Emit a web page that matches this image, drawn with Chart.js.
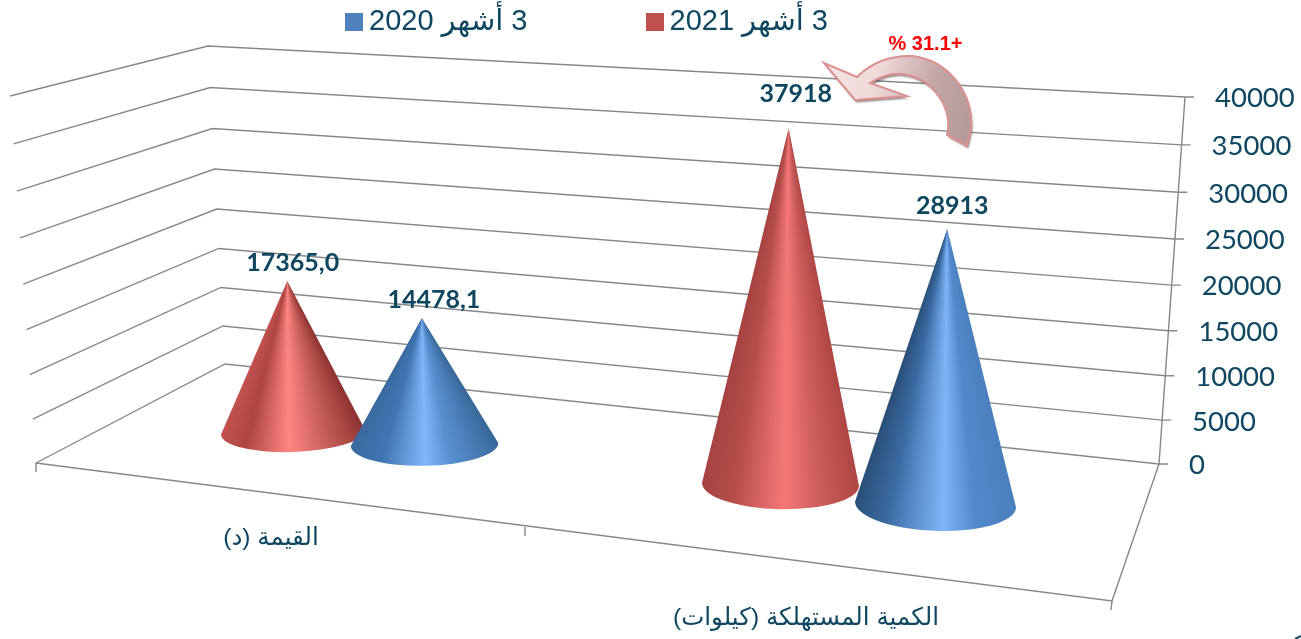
<!DOCTYPE html>
<html lang="ar">
<head>
<meta charset="utf-8">
<style>
html,body{margin:0;padding:0;background:#fff;overflow:hidden}
canvas{display:block;direction:rtl}
</style>
<script src="https://cdn.jsdelivr.net/npm/chart.js@4"></script>
</head>
<body>
<canvas id="c" width="1301" height="639"></canvas>
<script>
const categories = ['القيمة (د)', 'الكمية المستهلكة (كيلوات)'];
const series2021Name = '3 أشهر 2021';
const series2020Name = '3 أشهر 2020';
const series2021 = [17365.0, 37918];
const series2020 = [14478.1, 28913];
const labels2021 = ['17365,0', '37918'];
const labels2020 = ['14478,1', '28913'];
const changeLabel = '+31.1 %';
const axisMax = 40000;
const axisStep = 5000;

const TEAL = '#0f4761';
const GRID = '#84888b';
const LATIN = '"Liberation Sans","DejaVu Sans",sans-serif';

/* ---------- the picture's 3-D box: a perspective view of the plot ---------- */
const warp = t => t * (1 - 0.05 * (1 - t));          // wall foreshortening
const persp = {
  leftWall:  t => { const w = warp(t); return [36 - 26 * w, 463 - 367 * w]; },
  backCorner:t => { const w = warp(t); return [225 - 17 * w, 364 - 318 * w]; },
  rightWall: t => { const w = warp(t); return [1159 + 26 * w, 464 - 367 * w]; },
  // plot x (px) -> floor x (px)
  floorX: x => { const u = x - 236.2; return 293 + 0.7954 * u + 0.0001298 * u * u; },
  // floor x -> how far the floor point sits from the zero line of the axis
  floorY: (base, sx) => { const z = sx - 293; return base - 32 + 0.0905 * z + 0.0000348 * z * z; }
};

function hex(c){return [1,3,5].map(i=>parseInt(c.substr(i,2),16));}
function mix(a,b,s){const A=hex(a),B=hex(b);return A.map((v,i)=>Math.round(v+(B[i]-v)*s));}
const SHADES = {
  red: {
    a:[[0,'#c5524f'],[.2,'#ad4542'],[.47,'#ff8581'],[.7,'#c9605c'],[1,'#8f3330']],
    b:[[0,'#9c3d3c'],[.22,'#b84f4d'],[.54,'#f27472'],[.78,'#c95a57'],[1,'#b84c49']]
  },
  blue: {
    a:[[0,'#3d6fa8'],[.25,'#4277b6'],[.49,'#80b8fa'],[.63,'#5a92d3'],[1,'#33618e']],
    b:[[0,'#2a4f78'],[.22,'#3b6ba3'],[.55,'#7db5f8'],[.74,'#5289cb'],[1,'#4a7fbe']]
  }
};
function stopsFor(kind, s){
  const A=SHADES[kind].a,B=SHADES[kind].b;
  return A.map((p,i)=>{
    const c=mix(p[1],B[i][1],s);
    return [p[0]+(B[i][0]-p[0])*s, `rgb(${c[0]},${c[1]},${c[2]})`];
  });
}

function coneOf(bar, chart){
  const area = chart.chartArea;
  const t = (bar.base - bar.y) / (area.bottom - area.top);
  const cx = persp.floorX(bar.x);
  const cy = persp.floorY(bar.base, cx);
  const z = cx - 293;
  const grow = 0.975 + 0.0000548 * z + 0.0000001037 * z * z;
  const H = warp(t) * (area.bottom - area.top) * grow;
  const lean = 0.07 * (cx - 597) / 562;
  return {
    cx, cy,
    rx: bar.width / 2 * (0.993 + 0.000183 * z),
    ry: 20 + 0.0098 * z,
    rot: 0.00011 * (cx - 600),
    tipX: cx + lean * H,
    tipY: cy - H,
    s: Math.max(0, Math.min(1, z / 642))
  };
}

function drawCone(ctx, g, kind){
  ctx.save();
  const cos = Math.cos(g.rot), sin = Math.sin(g.rot);
  const Lx = g.cx - g.rx * cos, Ly = g.cy - g.rx * sin;
  ctx.beginPath();
  ctx.moveTo(g.tipX, g.tipY);
  ctx.lineTo(Lx, Ly);
  ctx.ellipse(g.cx, g.cy, g.rx, g.ry, g.rot, Math.PI, 0, true);
  ctx.closePath();
  ctx.clip();
  const stops = stopsFor(kind, g.s);
  const H = g.cy - g.tipY;
  const top = Math.floor(g.tipY), bottom = Math.ceil(g.cy + g.ry + 8);
  for (let y = top; y <= bottom; y++) {
    const f = Math.max(0.004, (y + 0.5 - g.tipY) / H);
    const mid = g.tipX + (g.cx - g.tipX) * f;
    const half = g.rx * f;
    const grad = ctx.createLinearGradient(mid - half, 0, mid + half, 0);
    stops.forEach(p => grad.addColorStop(p[0], p[1]));
    ctx.fillStyle = grad;
    ctx.fillRect(Math.floor(mid - half - 3), y, Math.ceil(2 * half + 6), 1);
  }
  ctx.restore();
}

const line = (ctx, pts) => {
  ctx.beginPath();
  pts.forEach((p, i) => i ? ctx.lineTo(p[0], p[1]) : ctx.moveTo(p[0], p[1]));
  ctx.stroke();
};

/* bars are drawn by the plugin below so that the right-hand cone sits in front */
Chart.BarElement.prototype.draw = function () {};

const swatch = color => {
  const c = document.createElement('canvas');
  c.width = 18; c.height = 18;
  const x = c.getContext('2d');
  x.fillStyle = color; x.fillRect(0, 0, 18, 18);
  return c;
};

const boxPlugin = {
  id: 'box3d',
  afterLayout(chart) {
    const lg = chart.legend;
    lg.top = -119.5;
    lg.left -= 77.75; lg.right -= 77.75;
  },
  beforeDraw(chart) {
    const { scales: { x, y } } = chart;
    const frame = chart.chartArea;
    y.getLabelItems(frame).forEach((item, i) => {
      const v = y.ticks[i].value;
      const t = v / axisMax;
      const p = persp.rightWall(t);
      item.options.translation = [p[0] + 30, p[1] + 1.5];
    });
    const xSpots = [[271, 524], [806, 604]];
    x.getLabelItems(frame).forEach((item, i) => {
      item.options.translation = xSpots[i];
    });
  },
  beforeDatasetsDraw(chart) {
    const ctx = chart.ctx;
    const y = chart.scales.y;
    ctx.save();
    ctx.strokeStyle = GRID;
    ctx.lineWidth = 1.4;
    y.ticks.forEach(tk => {
      const t = tk.value / axisMax;
      const R = persp.rightWall(t);
      line(ctx, [persp.leftWall(t), persp.backCorner(t), R, [R[0] + 9, R[1]]]);
    });
    const FL = persp.leftWall(0), BR = persp.rightWall(0), FR = [1112, 601];
    line(ctx, [persp.rightWall(1), BR]);
    line(ctx, [FL, FR, BR]);
    line(ctx, [FL, [36, 472]]);
    line(ctx, [[525, 527], [525, 536]]);
    line(ctx, [FR, [1111, 610]]);
    ctx.restore();
  },
  afterDatasetsDraw(chart) {
    const ctx = chart.ctx;
    const kinds = ['red', 'blue'];
    const texts = [labels2021, labels2020];
    const nudges = [[[5.5, -18], [7, -34]], [[12, -18], [5, -23]]];
    const cones = [];
    chart.getSortedVisibleDatasetMetas().forEach(meta => {
      meta.data.forEach((bar, i) => {
        const g = coneOf(bar, chart);
        drawCone(ctx, g, kinds[meta.index]);
        cones.push({ g, text: texts[meta.index][i], n: nudges[meta.index][i] });
      });
    });
    ctx.save();
    ctx.font = 'bold 25px Lato, "Open Sans", sans-serif';
    ctx.fillStyle = TEAL;
    ctx.textAlign = 'center';
    ctx.textBaseline = 'middle';
    cones.forEach(c => ctx.fillText(c.text, c.g.tipX + c.n[0], c.g.tipY + c.n[1]));
    ctx.restore();
    drawArrow(ctx);
  }
};

function drawArrow(ctx) {
  ctx.save();
  const body = new Path2D();
  body.moveTo(824, 63);
  body.lineTo(857, 77);
  body.bezierCurveTo(872, 62, 892, 55, 912, 56);
  body.bezierCurveTo(948, 60, 973, 92, 971, 128);
  body.lineTo(967, 146);
  body.lineTo(947, 135);
  body.bezierCurveTo(953, 110, 935, 78, 902, 74);
  body.bezierCurveTo(890, 73, 880, 77, 870, 83);
  body.lineTo(907, 96);
  body.lineTo(855, 100);
  body.closePath();
  const g = ctx.createLinearGradient(824, 70, 975, 110);
  g.addColorStop(0, '#f6e6e6');
  g.addColorStop(0.35, '#efd8d8');
  g.addColorStop(0.7, '#c3a7a7');
  g.addColorStop(1, '#b49a9a');
  ctx.shadowColor = 'rgba(60,40,40,0.55)';
  ctx.shadowBlur = 2;
  ctx.shadowOffsetX = 1.5;
  ctx.shadowOffsetY = 2.5;
  ctx.fillStyle = g;
  ctx.fill(body);
  ctx.shadowColor = 'transparent';
  ctx.strokeStyle = '#dd9090';
  ctx.lineWidth = 2;
  ctx.lineJoin = 'miter';
  ctx.stroke(body);
  ctx.font = 'bold 20px "Liberation Sans", sans-serif';
  ctx.fillStyle = '#ff0000';
  ctx.textAlign = 'center';
  ctx.textBaseline = 'middle';
  ctx.fillText(changeLabel, 925.5, 44);
  // clipped corner of a mark at the picture's edge
  ctx.strokeStyle = TEAL; ctx.lineWidth = 2;
  line(ctx, [[1295, 639], [1301, 636]]);
  ctx.restore();
}

new Chart(document.getElementById('c'), {
  type: 'bar',
  data: {
    labels: categories,
    datasets: [
      { label: series2021Name, data: series2021, backgroundColor: '#c0504d' },
      { label: series2020Name, data: series2020, backgroundColor: '#4f81bd' }
    ]
  },
  plugins: [boxPlugin],
  options: {
    responsive: false,
    animation: false,
    events: [],
    layout: { padding: { top: 57, left: 36, right: 0, bottom: 0 } },
    datasets: { bar: { categoryPercentage: 0.574, barPercentage: 0.9 } },
    scales: {
      x: {
        grid: { display: false },
        border: { display: false },
        ticks: { autoSkip: false, maxRotation: 0, color: TEAL, font: { size: 24.5, family: LATIN } },
        afterFit: s => { s.height = 175; }
      },
      y: {
        position: 'right',
        min: 0,
        max: axisMax,
        grid: { display: false, drawTicks: false },
        border: { display: false },
        ticks: {
          stepSize: axisStep,
          padding: 30,
          color: TEAL,
          font: { size: 27.5, family: 'Lato, sans-serif' },
          callback: v => String(v)
        },
        afterFit: s => { s.width = 142; }
      }
    },
    plugins: {
      tooltip: { enabled: false },
      title: { display: false },
      legend: {
        display: true,
        position: 'top',
        reverse: true,
        maxHeight: 40,
        labels: {
          color: TEAL,
          font: { size: 29, family: LATIN },
          padding: 126.5,
          boxWidth: 1,
          boxHeight: 18,
          usePointStyle: true,
          generateLabels(chart) {
            return Chart.defaults.plugins.legend.labels.generateLabels(chart).map(item => {
              item.pointStyle = swatch(item.fillStyle);
              return item;
            });
          }
        }
      }
    }
  }
});
</script>
</body>
</html>
